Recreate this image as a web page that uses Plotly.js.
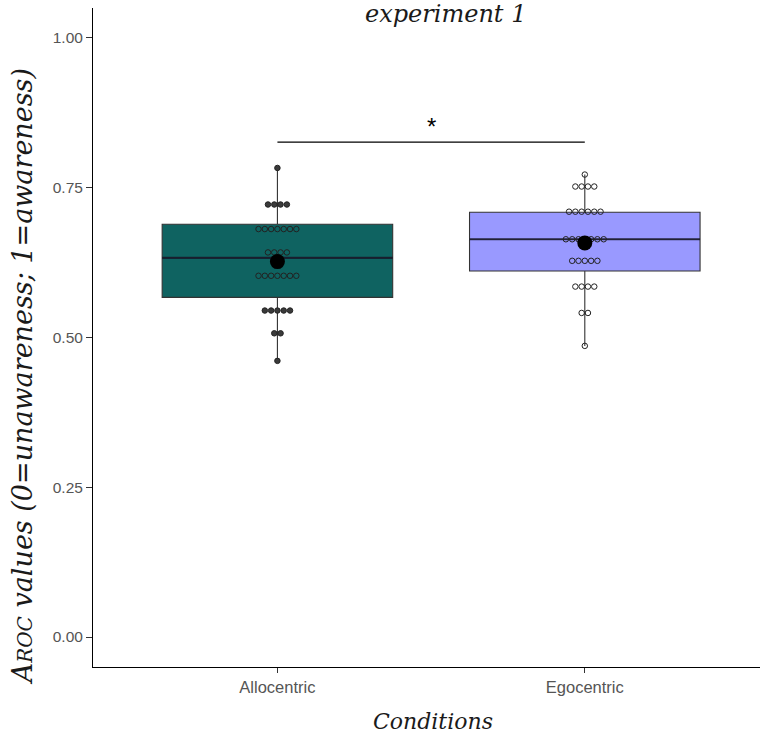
<!DOCTYPE html>
<html>
<head>
<meta charset="utf-8">
<script src="https://cdn.plot.ly/plotly-3.0.1.min.js"></script>
<style>html,body{margin:0;padding:0;background:#fff;}#chart{width:760px;height:738px;}</style>
</head>
<body>
<div id="chart"></div>
<script>
// ---- data ----
const categories = ['Allocentric', 'Egocentric'];
const allocentric = [0.783,
  0.722, 0.722, 0.722, 0.722,
  0.681, 0.681, 0.681, 0.681, 0.681, 0.681, 0.681,
  0.642, 0.642, 0.642, 0.642,
  0.603, 0.603, 0.603, 0.603, 0.603, 0.603, 0.603,
  0.545, 0.545, 0.545, 0.545, 0.545,
  0.507, 0.507,
  0.461];
const egocentric = [0.772,
  0.752, 0.752, 0.752, 0.752,
  0.710, 0.710, 0.710, 0.710, 0.710, 0.710,
  0.664, 0.664, 0.664, 0.664, 0.664, 0.664, 0.664,
  0.628, 0.628, 0.628, 0.628, 0.628,
  0.585, 0.585, 0.585, 0.585,
  0.541, 0.541,
  0.486];
const boxQ1 = [0.567, 0.611];
const boxMedian = [0.633, 0.664];
const boxQ3 = [0.689, 0.709];
const whiskerLow = [0.461, 0.486];
const whiskerHigh = [0.783, 0.772];
const sigPair = [1, 2];
const sigY = 0.826;
const sigLabel = '*';
const yTicks = [0, 0.25, 0.5, 0.75, 1];

// ---- styles ----
const boxFill = ['#0F6361', '#9999FF'];
const boxWidth = 0.75;
const dotStep = 0.0205;
const serif = 'DejaVu Serif';
const sans = 'Liberation Sans';

const series = [allocentric, egocentric];
const traces = [];

// boxes
series.forEach((vals, i) => {
  traces.push({
    type: 'box',
    x: [i + 1],
    q1: [boxQ1[i]], median: [boxMedian[i]], q3: [boxQ3[i]],
    lowerfence: [whiskerLow[i]], upperfence: [whiskerHigh[i]],
    width: boxWidth,
    fillcolor: boxFill[i],
    line: {color: '#333333', width: 1.1},
    whiskerwidth: 0,
    boxpoints: false,
    hoverinfo: 'skip',
    showlegend: false
  });
  // thicker median line
  traces.push({
    type: 'scatter', mode: 'lines',
    x: [i + 1 - boxWidth / 2, i + 1 + boxWidth / 2],
    y: [boxMedian[i], boxMedian[i]],
    line: {color: 'rgba(20,20,40,0.75)', width: 2.2},
    hoverinfo: 'skip', showlegend: false
  });
});

// dot plots (stacked centered rows)
series.forEach((vals, i) => {
  const groups = {};
  vals.forEach(v => { (groups[v] = groups[v] || []).push(v); });
  const xs = [], ys = [], cols = [];
  Object.keys(groups).forEach(k => {
    const n = groups[k].length;
    groups[k].forEach((v, j) => {
      xs.push(i + 1 + (j - (n - 1) / 2) * dotStep);
      ys.push(v);
      const inside = v >= boxQ1[i] && v <= boxQ3[i];
      if (i === 0) cols.push(inside ? 'rgba(0,0,0,0)' : '#3a3a3a');
      else cols.push('rgba(0,0,0,0)');
    });
  });
  traces.push({
    type: 'scatter', mode: 'markers', x: xs, y: ys,
    marker: {size: 5.5, color: cols, line: {color: '#222222', width: 1}},
    hoverinfo: 'skip', showlegend: false
  });
});

// means
const means = series.map(v => v.reduce((a, b) => a + b, 0) / v.length);
traces.push({
  type: 'scatter', mode: 'markers',
  x: categories.map((c, i) => i + 1), y: means,
  marker: {size: 15, color: '#000000'},
  hoverinfo: 'skip', showlegend: false
});

// significance bar
traces.push({
  type: 'scatter', mode: 'lines',
  x: sigPair, y: [sigY, sigY],
  line: {color: '#000000', width: 1.2},
  hoverinfo: 'skip', showlegend: false
});

const layout = {
  width: 760, height: 738,
  margin: {l: 93, r: 0, t: 8, b: 71},
  paper_bgcolor: '#ffffff', plot_bgcolor: '#ffffff',
  showlegend: false,
  xaxis: {
    range: [0.4, 2.57],
    tickvals: [1, 2], ticktext: categories,
    showgrid: false, zeroline: false,
    showline: true, linecolor: '#000000', linewidth: 1,
    ticks: 'outside', ticklen: 5, tickcolor: '#333333',
    tickfont: {family: sans, size: 16.5, color: '#555555'}
  },
  yaxis: {
    range: [-0.05, 1.05],
    tickvals: yTicks, tickformat: '.2f',
    showgrid: false, zeroline: false,
    showline: true, linecolor: '#000000', linewidth: 1,
    ticks: 'outside', ticklen: 6, tickcolor: '#333333',
    tickfont: {family: sans, size: 15.5, color: '#555555'}
  },
  annotations: [
    {text: '<i>experiment 1</i>', xref: 'paper', yref: 'paper', x: 0.528, y: 0.991,
     xanchor: 'center', yanchor: 'middle', showarrow: false,
     font: {family: serif, size: 24, color: '#1a1a1a'}},
    {text: '<i>Conditions</i>', xref: 'paper', yref: 'paper', x: 0.51, y: -0.083,
     xanchor: 'center', yanchor: 'middle', showarrow: false,
     font: {family: serif, size: 22, color: '#1a1a1a'}},
    {text: '<i>A<span style="font-size:20px">ROC</span> values (0=unawareness; 1=awareness)</i>',
     xref: 'paper', yref: 'paper', x: -0.106, y: 0.44, textangle: -90,
     xanchor: 'center', yanchor: 'middle', showarrow: false,
     font: {family: serif, size: 27, color: '#1a1a1a'}},
    {text: sigLabel, xref: 'x', yref: 'y', x: (sigPair[0] + sigPair[1]) / 2, y: sigY,
     xanchor: 'center', yanchor: 'bottom', showarrow: false,
     font: {family: sans, size: 24, color: '#000000'}}
  ]
};

Plotly.newPlot('chart', traces, layout, {displayModeBar: false, staticPlot: true});
</script>
</body>
</html>
